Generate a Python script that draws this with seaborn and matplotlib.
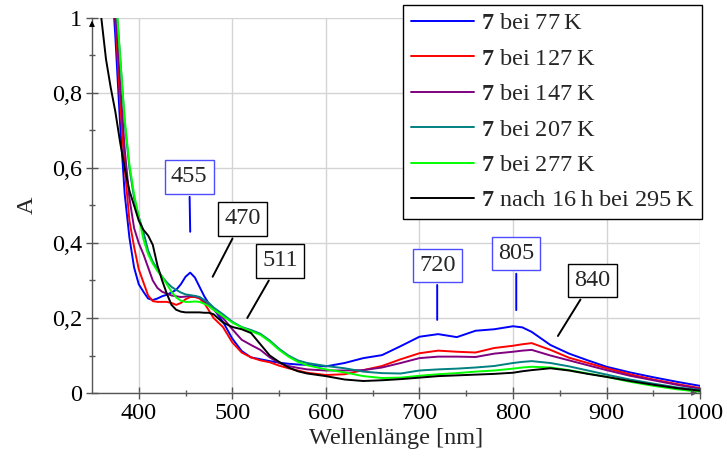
import seaborn as sns
import matplotlib.pyplot as plt
import matplotlib.ticker as mticker
import pandas as pd

sns.set_theme(style='whitegrid')
plt.rcParams['font.family'] = ['Liberation Serif', 'DejaVu Serif']
plt.rcParams['mathtext.fontset'] = 'custom'
plt.rcParams['mathtext.rm'] = 'Liberation Serif'
plt.rcParams['mathtext.bf'] = 'Liberation Serif:bold'

wl = [355, 360, 365, 370, 375, 380, 385, 390, 395, 400, 405, 410, 415, 420, 425, 430, 435, 440, 445, 450,
      455, 460, 465, 470, 475, 480, 490, 500, 510, 520, 530, 540, 550, 560, 570, 580, 600, 620, 640, 660,
      680, 700, 720, 740, 760, 780, 800, 810, 820, 840, 860, 880, 900, 925, 950, 975, 1000]

a_77 = [2.0, 1.6, 1.35, 1.15, 0.95, 0.72, 0.53, 0.415, 0.335, 0.29, 0.27, 0.252, 0.248, 0.252, 0.258, 0.262, 0.268, 0.275, 0.29, 0.31,
        0.321, 0.308, 0.283, 0.258, 0.238, 0.225, 0.19, 0.145, 0.112, 0.095, 0.09, 0.085, 0.081, 0.078, 0.076, 0.075, 0.071, 0.08, 0.093, 0.101,
        0.125, 0.15, 0.157, 0.149, 0.166, 0.17, 0.178, 0.175, 0.163, 0.128, 0.105, 0.087, 0.07, 0.055, 0.042, 0.03, 0.019]
a_127 = [2.0, 1.7, 1.4, 1.2, 1.0, 0.78, 0.6, 0.46, 0.39, 0.33, 0.295, 0.26, 0.245, 0.243, 0.243, 0.243, 0.24, 0.235, 0.24, 0.25,
         0.256, 0.256, 0.252, 0.24, 0.22, 0.2, 0.176, 0.135, 0.108, 0.095, 0.087, 0.082, 0.073, 0.066, 0.06, 0.054, 0.048, 0.05, 0.061, 0.072,
         0.09, 0.106, 0.113, 0.11, 0.108, 0.12, 0.126, 0.13, 0.133, 0.115, 0.094, 0.08, 0.066, 0.05, 0.036, 0.024, 0.013]
a_147 = [2.0, 1.7, 1.45, 1.22, 1.03, 0.83, 0.65, 0.52, 0.44, 0.4, 0.37, 0.335, 0.3, 0.28, 0.27, 0.265, 0.26, 0.258, 0.256, 0.257,
         0.259, 0.258, 0.255, 0.245, 0.232, 0.222, 0.2, 0.17, 0.142, 0.128, 0.115, 0.095, 0.08, 0.072, 0.067, 0.063, 0.06, 0.06, 0.061, 0.068,
         0.08, 0.093, 0.097, 0.097, 0.096, 0.105, 0.11, 0.113, 0.115, 0.1, 0.087, 0.074, 0.061, 0.046, 0.034, 0.022, 0.011]
a_207 = [2.0, 1.75, 1.5, 1.25, 1.07, 0.9, 0.72, 0.6, 0.52, 0.47, 0.43, 0.38, 0.35, 0.33, 0.31, 0.295, 0.283, 0.275, 0.268, 0.263,
         0.261, 0.259, 0.256, 0.248, 0.24, 0.228, 0.21, 0.19, 0.176, 0.168, 0.158, 0.14, 0.118, 0.1, 0.087, 0.08, 0.072, 0.066, 0.057, 0.053,
         0.052, 0.06, 0.063, 0.065, 0.068, 0.072, 0.08, 0.083, 0.085, 0.08, 0.071, 0.06, 0.049, 0.036, 0.025, 0.015, 0.008]
a_277 = [2.0, 1.75, 1.5, 1.25, 1.08, 0.9, 0.73, 0.61, 0.53, 0.47, 0.41, 0.37, 0.345, 0.325, 0.31, 0.29, 0.27, 0.255, 0.246, 0.243,
         0.243, 0.244, 0.243, 0.238, 0.232, 0.222, 0.205, 0.188, 0.175, 0.165, 0.155, 0.137, 0.115, 0.097, 0.083, 0.074, 0.063, 0.055, 0.045, 0.04,
         0.041, 0.046, 0.05, 0.053, 0.057, 0.06, 0.065, 0.068, 0.07, 0.068, 0.061, 0.052, 0.043, 0.03, 0.019, 0.01, 0.003]
a_295 = [1.12, 1.0, 0.89, 0.815, 0.75, 0.67, 0.6, 0.54, 0.5, 0.46, 0.435, 0.42, 0.395, 0.34, 0.3, 0.265, 0.235, 0.222, 0.217, 0.215,
         0.215, 0.215, 0.215, 0.214, 0.214, 0.21, 0.188, 0.176, 0.17, 0.16, 0.13, 0.1, 0.083, 0.068, 0.058, 0.052, 0.045, 0.036, 0.032, 0.034,
         0.037, 0.041, 0.045, 0.047, 0.049, 0.051, 0.054, 0.058, 0.061, 0.066, 0.06, 0.051, 0.043, 0.032, 0.022, 0.013, 0.006]

labels = [r'$\mathbf{7}$ bei 77' + '\u2009K',
          r'$\mathbf{7}$ bei 127' + '\u2009K',
          r'$\mathbf{7}$ bei 147' + '\u2009K',
          r'$\mathbf{7}$ bei 207' + '\u2009K',
          r'$\mathbf{7}$ bei 277' + '\u2009K',
          r'$\mathbf{7}$ nach 16' + '\u2009h bei 295\u2009K']
colors = ['#0000ff', '#ff0000', '#800080', '#008080', '#00ff00', '#000000']

# peak labels: (text, point on curve, label position, box colour)
pins = [('455', (455, 0.43), (454, 0.576), '#4d4dff'),
        ('470', (479, 0.31), (511, 0.464), 'black'),
        ('511', (516, 0.20), (551, 0.352), 'black'),
        ('720', (719, 0.195), (719, 0.341), '#4d4dff'),
        ('805', (803.5, 0.221), (803.5, 0.371), '#4d4dff'),
        ('840', (848, 0.152), (885, 0.301), 'black')]

frames = []
for lab, vals in zip(labels, [a_77, a_127, a_147, a_207, a_277, a_295]):
    frames.append(pd.DataFrame({'wl': wl, 'A': vals, 'probe': lab}))
df = pd.concat(frames, ignore_index=True)

fs = 17.5

fig = plt.figure(figsize=(7.27, 4.71), dpi=100)
ax = fig.add_axes([0.1265, 0.1656, 0.8365, 0.7962])
sns.lineplot(df, x='wl', y='A', hue='probe', hue_order=labels, palette=colors,
             linewidth=1.4, ax=ax, legend=False, sort=False)

ax.set_xlim(350, 1000)
ax.set_ylim(0, 1)
ax.xaxis.set_major_locator(mticker.FixedLocator([400, 500, 600, 700, 800, 900, 1000]))
ax.xaxis.set_minor_locator(mticker.FixedLocator([450, 550, 650, 750, 850, 950]))
ax.yaxis.set_major_locator(mticker.FixedLocator([0, 0.2, 0.4, 0.6, 0.8, 1.0]))
ax.yaxis.set_minor_locator(mticker.FixedLocator([0.1, 0.3, 0.5, 0.7, 0.9]))
ax.yaxis.set_major_formatter(mticker.FuncFormatter(lambda v, p: ('%g' % round(v, 1)).replace('.', ',')))

ax.grid(True, which='major', color='#d4d4d4', linewidth=1.0)
ax.grid(False, which='minor')
for s in ['top', 'right']:
    ax.spines[s].set_visible(False)
for s in ['left', 'bottom']:
    ax.spines[s].set_color('#555555')
    ax.spines[s].set_linewidth(1.0)
ax.tick_params(which='major', direction='inout', length=8, width=1.0, color='#555555',
               labelsize=fs, labelcolor='black', left=True, bottom=True, pad=3)
ax.tick_params(which='minor', direction='inout', length=5, width=1.0, color='#555555',
               left=True, bottom=True)
ax.set_xlabel('Wellenlänge [nm]', fontsize=fs, labelpad=3)
ax.set_ylabel('A', fontsize=fs, labelpad=10)

# arrow heads at the axis ends
ax.annotate('', xy=(0, 1.0), xycoords='axes fraction', xytext=(0, 0.97),
            arrowprops=dict(arrowstyle='-|>', color='black', lw=0.8, mutation_scale=8))
ax.annotate('', xy=(1.0, 0), xycoords='axes fraction', xytext=(0.98, 0),
            arrowprops=dict(arrowstyle='-|>', color='#555555', lw=0.8, mutation_scale=8))

for txt, pt, lpos, ec in pins:
    ax.annotate(txt, xy=pt, xytext=lpos, fontsize=fs, ha='center', va='center',
                bbox=dict(boxstyle='square,pad=0.25', fc='white', ec=ec, lw=1.0),
                arrowprops=dict(arrowstyle='-', color=ec if ec == 'black' else '#0000ff',
                                lw=1.4, shrinkA=2, shrinkB=0))

handles = [plt.Line2D([], [], color=c, lw=1.4) for c in colors]
leg = ax.legend(handles, labels, loc='upper right', bbox_to_anchor=(0.9656, 0.989),
                bbox_transform=fig.transFigure, borderaxespad=0, fontsize=fs,
                labelspacing=0.55, handlelength=2.6, handletextpad=0.3,
                frameon=True, fancybox=False, framealpha=1, borderpad=0.3)
leg.get_frame().set_edgecolor('black')
leg.get_frame().set_linewidth(1.0)

fig.savefig('out.png', dpi=100)
